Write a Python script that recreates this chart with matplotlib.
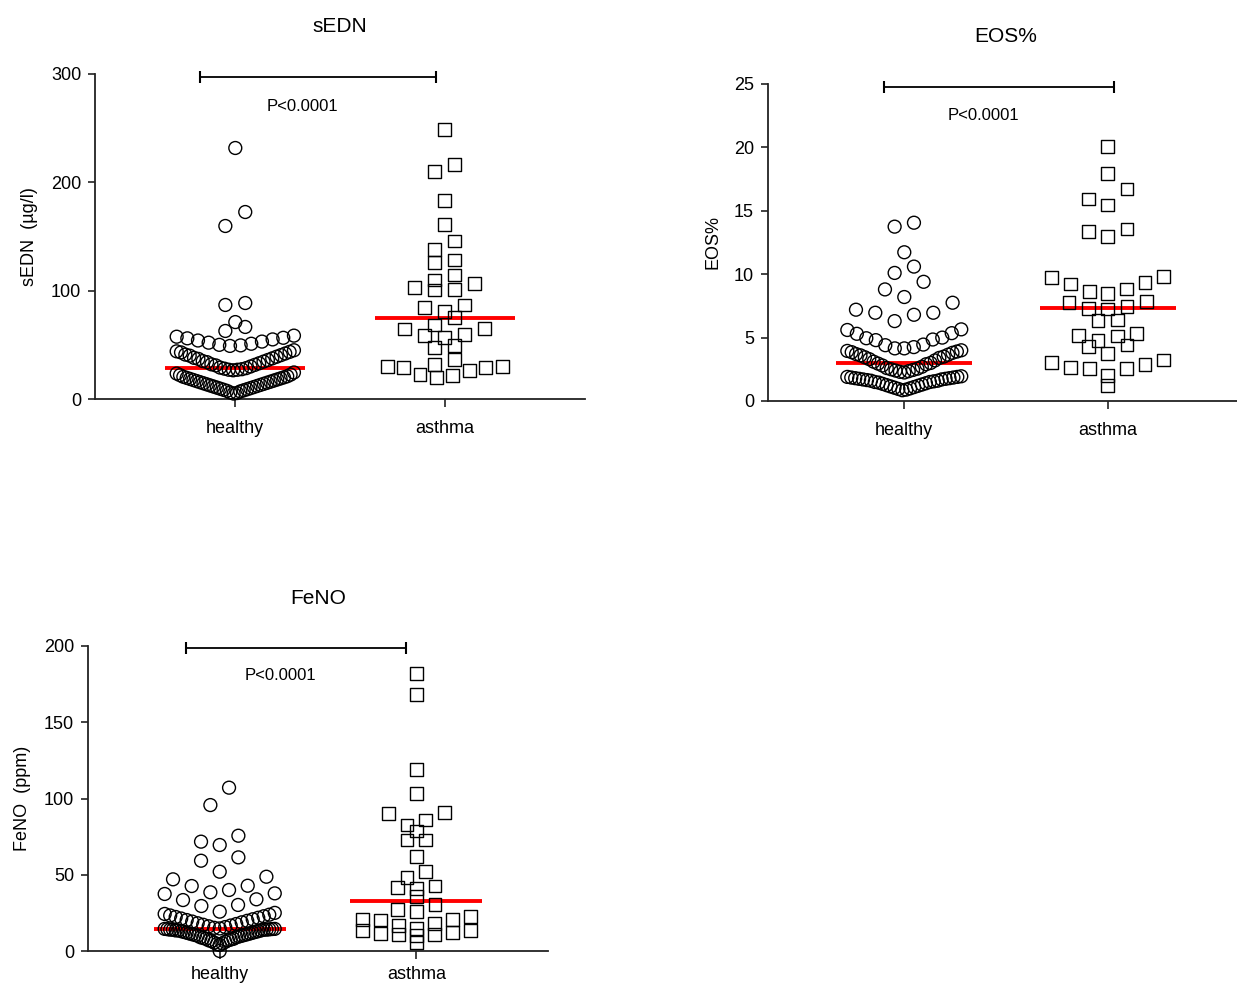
import numpy as np
import matplotlib
matplotlib.use("Agg")
import matplotlib.pyplot as plt

plt.rcParams['font.family'] = ['Liberation Sans', 'DejaVu Sans']

groups = ['healthy', 'asthma']

# values (one entry per subject)
sedn_healthy = [5, 5.5, 6, 7, 7.5, 8, 8.5, 9, 9.5, 10, 10.5, 11, 11.5, 12, 12.5, 13, 13.5, 14,
                14.5, 15, 15.5, 16, 16.5, 17, 17.5, 18, 18.5, 19, 19.5, 20, 20.5, 21, 22, 22.5,
                23.5, 24.5,
                26.5, 27, 27, 27.5, 28, 28.5, 29, 30, 31, 31.5, 32, 33, 34, 34.5, 35, 36, 37,
                37.5, 38, 39, 40, 40.5, 41, 42, 43, 43.5, 44, 45,
                49, 49.5, 50, 51, 52, 53, 54, 55, 56, 56.5, 57.5, 58.5,
                62.8, 66.5, 71, 86.8, 88.6, 159.7, 172.6, 231.7]
sedn_asthma = [249, 216.6, 209.8, 183, 161.3, 145.8, 138.2, 128.3, 125.8, 114.5, 109.8, 106.8,
               102.8, 101.3, 100.6, 86.8, 84.6, 80.6, 75, 68.3, 64.6, 65.3, 59, 59.7, 57, 49.6,
               47.4, 36.6, 32, 29.8, 29.2, 29.8, 29.2, 26, 23, 22, 20]

eos_healthy = [0.85, 0.9, 0.95, 1.0, 1.05, 1.1, 1.15, 1.2, 1.25, 1.3, 1.35, 1.4, 1.45, 1.5, 1.5,
               1.55, 1.6, 1.6, 1.65, 1.7, 1.7, 1.75, 1.75, 1.8, 1.8, 1.85, 1.85, 1.9, 1.9, 1.95,
               2.25, 2.3, 2.35, 2.4, 2.45, 2.5, 2.55, 2.6, 2.7, 2.8, 2.9, 2.95, 3.0, 3.1, 3.2,
               3.3, 3.4, 3.45, 3.5, 3.6, 3.65, 3.7, 3.8, 3.85, 3.9, 3.95, 4.0,
               4.15, 4.15, 4.25, 4.4, 4.45, 4.8, 4.85, 4.95, 5.0, 5.3, 5.35, 5.6, 5.65,
               6.3, 6.8, 6.96, 6.96, 7.2, 7.75, 8.2, 8.8, 9.4, 10.1, 10.6, 11.73, 13.75, 14.06]
eos_asthma = [20.06, 17.96, 16.72, 15.93, 15.46, 13.4, 13.0, 13.56, 9.8, 9.72, 9.33, 9.23, 8.83,
              8.62, 8.49, 7.78, 7.83, 7.31, 7.44, 7.26, 6.39, 6.33, 5.13, 5.34, 5.2, 4.76, 4.42,
              4.28, 3.76, 2.66, 2.58, 3.05, 2.89, 3.23, 2.58, 2.0, 1.21]

feno_healthy = [0,
                4, 4.5, 5, 5.5, 6, 6.5, 7, 7, 7.5, 8, 8, 8.5, 9, 9, 9.5, 10, 10, 10.5, 10.5, 11,
                11, 11.5, 11.5, 12, 12, 12.5, 12.5, 13, 13, 13.5, 13.5, 13.5, 14, 14, 14, 14.0,
                14.2, 14.3, 14.4, 14.5, 14.5,
                14.8, 15.2, 15.7, 16.2, 16.7, 17.2, 17.7, 18.2, 18.8, 19.3, 19.8, 20.3, 20.8,
                21.3, 21.8, 22.3, 22.8, 23.3, 23.8, 24.3, 25,
                25.8, 29.5, 30.2, 33.4, 33.9, 37.4, 37.8, 38.5, 40, 42.6, 42.8, 47, 48.7, 52,
                59.2, 61.4, 69.5, 71.7, 75.6, 95.7, 107.1]
feno_asthma = [182.1, 168.3, 119.1, 103, 90.3, 90.7, 82.6, 85.9, 78.7, 72.8, 72.8, 61.8, 52,
               48.1, 41.8, 40.7, 42.6, 35.6, 30.6, 27.3, 25.8, 20.3, 20.8, 18.2, 20.8, 22.5,
               14.9, 17, 13.3, 11.1, 11.1, 10, 11.6, 12.3, 13.3, 5.4]

titles = ['sEDN', 'EOS%', 'FeNO']
ylabels = ['sEDN  (µg/l)', 'EOS%', 'FeNO  (ppm)']
yticks = [[0, 100, 200, 300], [0, 5, 10, 15, 20, 25], [0, 50, 100, 150, 200]]
p_label = 'P<0.0001'
bracket_y = [297, 24.8, 198.7]
p_label_y = [270, 22.5, 180.5]

panels = [(sedn_healthy, sedn_asthma), (eos_healthy, eos_asthma), (feno_healthy, feno_asthma)]

# ---- layout ----
W, H = 1237, 986
rects = [(95, 74, 490, 325), (768, 84, 476, 317), (88, 646, 460, 305)]  # px: left, top, w, h
bins = [
    ([0, 25.5, 46.5, 61, 69, 80, 100, 200, 300],
     [0, 31, 40, 55, 67, 79, 95, 108, 120, 135, 150, 170, 195, 230, 300]),
    ([0, 2.2, 4.05, 5.8, 7.9, 9.6, 11, 12.5, 25],
     [0, 1.6, 3.4, 4.6, 5.6, 6.8, 8.0, 10, 14, 17, 19, 25]),
    ([0, 3, 14.6, 25.5, 38.2, 50, 65, 90, 120, 200],
     [0, 8, 14, 24, 32, 38, 46, 56, 66, 76, 80, 96, 110, 130, 175, 200]),
]
bracket_x = [(-0.17, 0.96), (-0.1, 1.03), (-0.17, 0.95)]
p_label_x = [0.32, 0.39, 0.31]
xlabel_pad = [9, 9, 5]
step = 0.095
max_width = [0.56, 0.55]
markers = ['o', 's']
dark = '#222222'


def spread(values, edges, step, width):
    # Prism-like scatter: bin the values, spread each bin sideways, lowest in the middle
    values = np.asarray(values, dtype=float)
    offsets = np.zeros(len(values))
    idx = np.digitize(values, edges)
    for b in np.unique(idx):
        members = np.where(idx == b)[0]
        members = members[np.argsort(values[members], kind='stable')]
        n = len(members)
        s = step if n < 2 else min(step, width / (n - 1))
        slots = (np.arange(n) - (n - 1) / 2) * s
        order = np.argsort(np.abs(slots), kind='stable')
        for m, k in zip(members, order):
            offsets[m] = slots[k]
    return offsets


fig = plt.figure(figsize=(W / 100, H / 100), dpi=100)

for p, (l, t, w, h) in enumerate(rects):
    ax = fig.add_axes([l / W, 1 - (t + h) / H, w / W, h / H])
    ymax = yticks[p][-1]
    for g, vals in enumerate(panels[p]):
        x = g + spread(vals, bins[p][g], step, max_width[g])
        ax.scatter(x, vals, s=86, marker=markers[g], facecolors='none', edgecolors='black',
                   linewidths=1.0, clip_on=False, zorder=3)
        med = np.median(vals)
        ax.plot([g - 0.335, g + 0.335], [med, med], color='#ff0000', lw=2.8,
                solid_capstyle='butt', zorder=2, clip_on=False)

    x0, x1 = bracket_x[p]
    ax.plot([x0, x1], [bracket_y[p]] * 2, color='black', lw=1.3, clip_on=False)
    ax.plot([x0, x1], [bracket_y[p]] * 2, ls='none', marker='|', ms=9, mew=1.5,
            color='black', clip_on=False)
    ax.text(p_label_x[p], p_label_y[p], p_label, ha='center', va='center', fontsize=12)

    ax.set_xlim(-0.67, 1.67)
    ax.set_ylim(0, ymax)
    ax.set_yticks(yticks[p])
    ax.set_xticks([0, 1])
    ax.set_xticklabels(groups)
    ax.set_title(titles[p], fontsize=15, pad=30)
    ax.set_ylabel(ylabels[p], fontsize=13, labelpad=9)

    for side in ['top', 'right']:
        ax.spines[side].set_visible(False)
    for side in ['left', 'bottom']:
        ax.spines[side].set_color(dark)
        ax.spines[side].set_linewidth(1.3)
    ax.tick_params(axis='y', direction='out', length=5, width=1.2, colors=dark,
                   labelsize=13, pad=5, labelcolor='black')
    ax.tick_params(axis='x', direction='out', length=6, width=1.2, colors=dark,
                   labelsize=13, pad=xlabel_pad[p], labelcolor='black')

fig.savefig('out.png', dpi=100)
